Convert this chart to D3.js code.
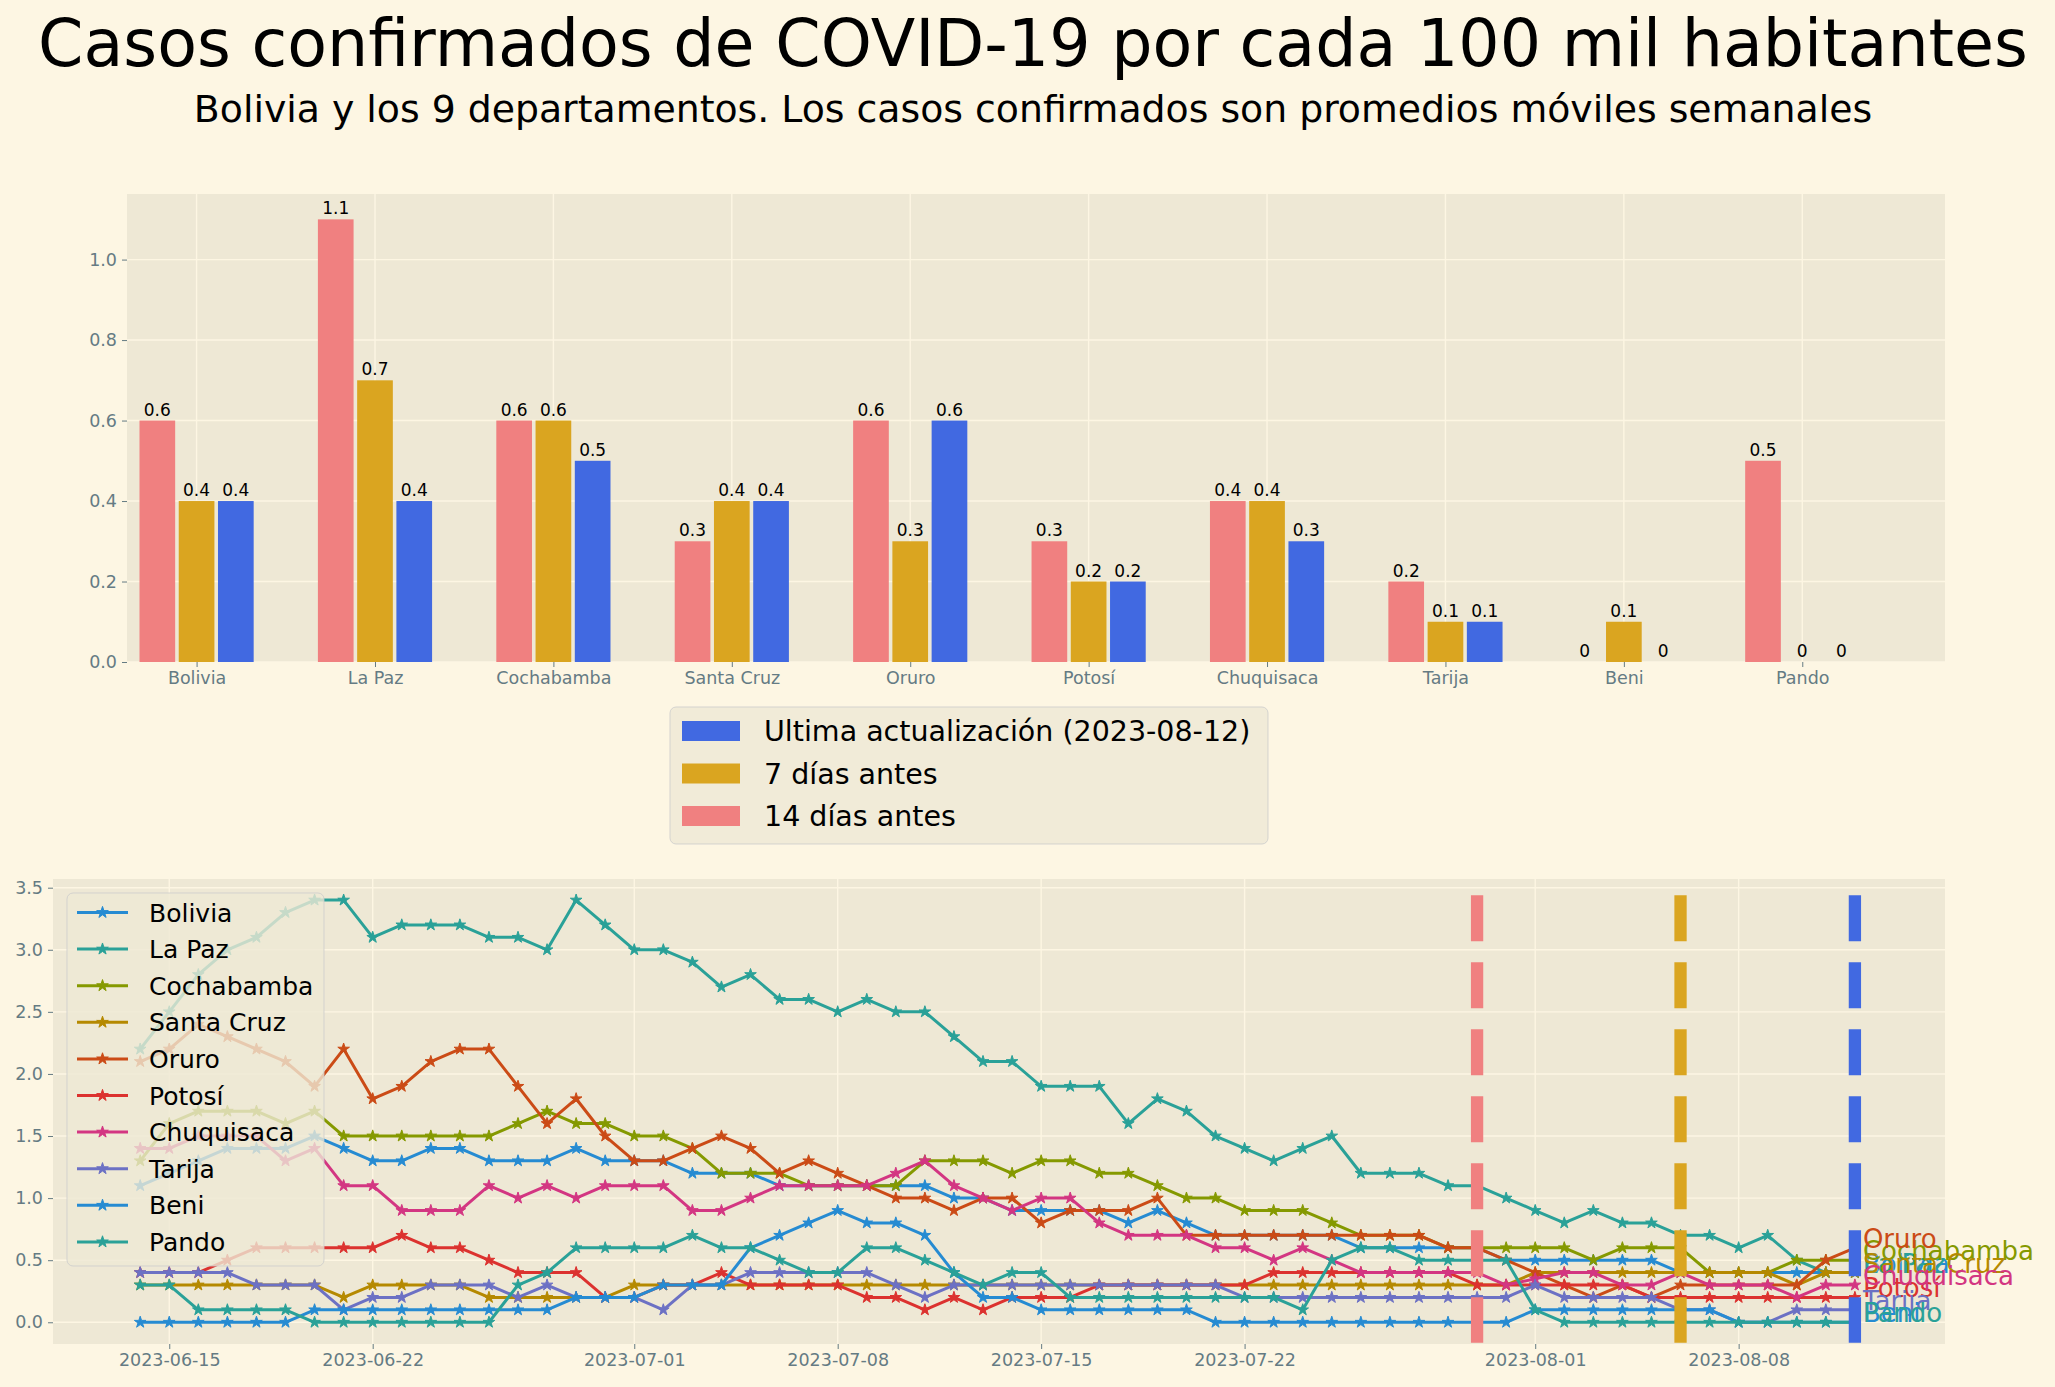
<!DOCTYPE html>
<html><head><meta charset="utf-8">
<script src="https://cdn.jsdelivr.net/npm/d3@7"></script>
<style>
body{margin:0;background:#FDF6E3;}
text{font-family:"DejaVu Sans",sans-serif;}
</style>
</head><body><svg id="c"></svg>
<script>
const W = 2055, H = 1387;
const titleText = "Casos confirmados de COVID-19 por cada 100 mil habitantes";
const subtitleText = "Bolivia y los 9 departamentos. Los casos confirmados son promedios móviles semanales";

// ---------- bar chart data ----------
const categories = ["Bolivia","La Paz","Cochabamba","Santa Cruz","Oruro","Potosí","Chuquisaca","Tarija","Beni","Pando"];
const lastValues     = [0.4, 0.4, 0.5, 0.4, 0.6, 0.2, 0.3, 0.1, 0,   0];
const weekBefore     = [0.4, 0.7, 0.6, 0.4, 0.3, 0.2, 0.4, 0.1, 0.1, 0];
const twoWeeksBefore = [0.6, 1.1, 0.6, 0.3, 0.6, 0.3, 0.4, 0.2, 0,   0.5];
const barLegendLabels = ["Ultima actualización (2023-08-12)", "7 días antes", "14 días antes"];
const barYTicks = [0, 0.2, 0.4, 0.6, 0.8, 1.0];

// ---------- line chart data ----------
const startDate = "2023-06-14", endDate = "2023-08-12";
const seriesNames = ["Bolivia","La Paz","Cochabamba","Santa Cruz","Oruro","Potosí","Chuquisaca","Tarija","Beni","Pando"];
const bolivia = [1.1,1.2,1.3,1.4,1.4,1.4,1.5,1.4,1.3,1.3,1.4,1.4, 1.3,1.3,1.3,1.4,1.3,1.3,1.3,1.2,1.2,1.2,1.1,1.1,1.1, 1.1,1.1,1.1,1.0,1.0,0.9,0.9,0.9,0.9,0.8,0.9,0.8,0.7,0.7, 0.7,0.7,0.7,0.6,0.6,0.6,0.6,0.6,0.5,0.5,0.5,0.5,0.5,0.5,0.4,0.4,0.4,0.4,0.4,0.4,0.4];
const laPaz = [2.2,2.5,2.8,3.0,3.1,3.3,3.4,3.4,3.1,3.2,3.2,3.2, 3.1,3.1,3.0,3.4,3.2,3.0,3.0,2.9,2.7,2.8,2.6,2.6,2.5, 2.6,2.5,2.5,2.3,2.1,2.1,1.9,1.9,1.9,1.6,1.8,1.7,1.5,1.4, 1.3,1.4,1.5,1.2,1.2,1.2,1.1,1.1,1.0,0.9,0.8,0.9,0.8,0.8,0.7,0.7,0.6,0.7,0.5,0.4,0.4];
const cochabamba = [1.3,1.6,1.7,1.7,1.7,1.6,1.7,1.5,1.5,1.5,1.5,1.5, 1.5,1.6,1.7,1.6,1.6,1.5,1.5,1.4,1.2,1.2,1.2,1.1,1.1, 1.1,1.1,1.3,1.3,1.3,1.2,1.3,1.3,1.2,1.2,1.1,1.0,1.0,0.9, 0.9,0.9,0.8,0.7,0.7,0.7,0.6,0.6,0.6,0.6,0.6,0.5,0.6,0.6,0.6,0.4,0.4,0.4,0.5,0.5,0.5];
const santaCruz = [0.3,0.3,0.3,0.3,0.3,0.3,0.3,0.2,0.3,0.3,0.3,0.3, 0.2,0.2,0.2,0.2,0.2,0.3,0.3,0.3,0.3,0.3,0.3,0.3,0.3, 0.3,0.3,0.3,0.3,0.3,0.3,0.3,0.3,0.3,0.3,0.3,0.3,0.3,0.3, 0.3,0.3,0.3,0.3,0.3,0.3,0.3,0.3,0.3,0.4,0.4,0.4,0.4,0.4,0.4,0.4,0.4,0.4,0.3,0.4,0.4];
const oruro = [2.1,2.2,2.4,2.3,2.2,2.1,1.9,2.2,1.8,1.9,2.1,2.2, 2.2,1.9,1.6,1.8,1.5,1.3,1.3,1.4,1.5,1.4,1.2,1.3,1.2, 1.1,1.0,1.0,0.9,1.0,1.0,0.8,0.9,0.9,0.9,1.0,0.7,0.7,0.7, 0.7,0.7,0.7,0.7,0.7,0.7,0.6,0.6,0.5,0.4,0.3,0.2,0.3,0.2,0.3,0.3,0.3,0.3,0.3,0.5,0.6];
const potosi = [0.4,0.4,0.4,0.5,0.6,0.6,0.6,0.6,0.6,0.7,0.6,0.6, 0.5,0.4,0.4,0.4,0.2,0.2,0.3,0.3,0.4,0.3,0.3,0.3,0.3, 0.2,0.2,0.1,0.2,0.1,0.2,0.2,0.2,0.3,0.3,0.3,0.3,0.3,0.3, 0.4,0.4,0.4,0.4,0.4,0.4,0.4,0.3,0.3,0.3,0.3,0.3,0.3,0.2,0.2,0.2,0.2,0.2,0.2,0.2,0.2];
const chuquisaca = [1.4,1.4,1.5,1.5,1.5,1.3,1.4,1.1,1.1,0.9,0.9,0.9, 1.1,1.0,1.1,1.0,1.1,1.1,1.1,0.9,0.9,1.0,1.1,1.1,1.1, 1.1,1.2,1.3,1.1,1.0,0.9,1.0,1.0,0.8,0.7,0.7,0.7,0.6,0.6, 0.5,0.6,0.5,0.4,0.4,0.4,0.4,0.4,0.3,0.35,0.4,0.4,0.3,0.3,0.4,0.3,0.3,0.3,0.2,0.3,0.3];
const tarija = [0.4,0.4,0.4,0.4,0.3,0.3,0.3,0.1,0.2,0.2,0.3,0.3, 0.3,0.2,0.3,0.2,0.2,0.2,0.1,0.3,0.3,0.4,0.4,0.4,0.4, 0.4,0.3,0.2,0.3,0.3,0.3,0.3,0.3,0.3,0.3,0.3,0.3,0.3,0.2, 0.2,0.2,0.2,0.2,0.2,0.2,0.2,0.2,0.2,0.3,0.2,0.2,0.2,0.2,0.1,0.1,0,0,0.1,0.1,0.1];
const beni = [0,0,0,0,0,0,0.1,0.1,0.1,0.1,0.1,0.1, 0.1,0.1,0.1,0.2,0.2,0.2,0.3,0.3,0.3,0.6,0.7,0.8,0.9, 0.8,0.8,0.7,0.4,0.2,0.2,0.1,0.1,0.1,0.1,0.1,0.1,0,0, 0,0,0,0,0,0,0,0,0,0.1,0.1,0.1,0.1,0.1,0.1,0.1,0,0,0,0,0];
const pando = [0.3,0.3,0.1,0.1,0.1,0.1,0,0,0,0,0,0, 0,0.3,0.4,0.6,0.6,0.6,0.6,0.7,0.6,0.6,0.5,0.4,0.4, 0.6,0.6,0.5,0.4,0.3,0.4,0.4,0.2,0.2,0.2,0.2,0.2,0.2,0.2, 0.2,0.1,0.5,0.6,0.6,0.5,0.5,0.5,0.5,0.1,0,0,0,0,0,0,0,0,0,0,0];
const seriesValues = [bolivia, laPaz, cochabamba, santaCruz, oruro, potosi, chuquisaca, tarija, beni, pando];
const seriesColors = ["#268BD2","#2AA198","#859900","#B58900","#CB4B16","#DC322F","#D33682","#6C71C4","#268BD2","#2AA198"];
const xTickLabels = ["2023-06-15","2023-06-22","2023-07-01","2023-07-08","2023-07-15","2023-07-22","2023-08-01","2023-08-08"];
const lineYTicks = [0, 0.5, 1.0, 1.5, 2.0, 2.5, 3.0, 3.5];
const markerDates = ["2023-07-30","2023-08-06","2023-08-12"];
const markerExtent = [3.44, -0.165];

// ---------- styles ----------
const BG = "#FDF6E3", AX = "#EEE8D5", GRID = "#FDF6E3", TICK = "#657b83";
const barColors = {last:"#4169E1", week:"#DAA520", two:"#F08080"};
const markerColors = [barColors.two, barColors.week, barColors.last];
const parse = d3.utcParse("%Y-%m-%d");

const svg = d3.select("#c").attr("width", W).attr("height", H);
svg.append("rect").attr("width", W).attr("height", H).attr("fill", BG);

svg.append("text").attr("x", 1033).attr("y", 66).attr("text-anchor", "middle")
  .attr("font-size", 65).attr("fill", "#000").text(titleText);
svg.append("text").attr("x", 1033).attr("y", 122).attr("text-anchor", "middle")
  .attr("font-size", 37.8).attr("fill", "#000").text(subtitleText);

function styleAxis(g) {
  g.select(".domain").remove();
  g.selectAll(".tick line").attr("stroke", TICK).attr("stroke-width", 1);
  g.selectAll(".tick text").attr("fill", TICK).attr("font-size", 17.5)
    .attr("font-family", "DejaVu Sans");
}

// ================= BAR CHART =================
const B = {l:127, r:1945, t:194, b:662};
const xb = d3.scaleLinear().domain([-0.39, 9.8]).range([B.l, B.r]);
const yb = d3.scaleLinear().domain([0, 1.163]).range([B.b, B.t]);
const gb = svg.append("g");
gb.append("rect").attr("x", B.l).attr("y", B.t).attr("width", B.r - B.l).attr("height", B.b - B.t).attr("fill", AX);
gb.append("g").selectAll("line").data(barYTicks).join("line")
  .attr("x1", B.l).attr("x2", B.r).attr("y1", d => yb(d)).attr("y2", d => yb(d))
  .attr("stroke", GRID).attr("stroke-width", 1.4);
gb.append("g").selectAll("line").data(d3.range(categories.length)).join("line")
  .attr("x1", d => xb(d)).attr("x2", d => xb(d)).attr("y1", B.t).attr("y2", B.b)
  .attr("stroke", GRID).attr("stroke-width", 1.4);
const barW = 0.2, offs = [-0.22, 0, 0.22];
const barSets = [
  {vals: twoWeeksBefore, color: barColors.two, off: offs[0]},
  {vals: weekBefore, color: barColors.week, off: offs[1]},
  {vals: lastValues, color: barColors.last, off: offs[2]}
];
barSets.forEach(s => {
  const g = gb.append("g");
  g.selectAll("rect").data(s.vals).join("rect")
    .attr("x", (d, i) => xb(i + s.off - barW / 2))
    .attr("width", xb(barW) - xb(0))
    .attr("y", d => yb(d))
    .attr("height", d => yb(0) - yb(d))
    .attr("fill", s.color);
  g.selectAll("text").data(s.vals).join("text")
    .attr("x", (d, i) => xb(i + s.off))
    .attr("y", d => yb(d) - 5)
    .attr("text-anchor", "middle").attr("font-size", 17).attr("fill", "#000")
    .text(d => d === 0 ? "0" : String(d));
});
gb.append("g").attr("transform", `translate(${B.l},0)`)
  .call(d3.axisLeft(yb).tickValues(barYTicks).tickFormat(d3.format(".1f")).tickSize(5).tickPadding(5))
  .call(styleAxis);
gb.append("g").attr("transform", `translate(0,${B.b})`)
  .call(d3.axisBottom(xb).tickValues(d3.range(categories.length)).tickFormat(i => categories[i]).tickSize(5).tickPadding(5))
  .call(styleAxis);

// bar legend
const bl = svg.append("g").attr("transform", "translate(670,707)");
bl.append("rect").attr("width", 598).attr("height", 137).attr("rx", 6)
  .attr("fill", AX).attr("fill-opacity", 0.8).attr("stroke", "#cccccc").attr("stroke-opacity", 0.8);
const blColors = [barColors.last, barColors.week, barColors.two];
barLegendLabels.forEach((t, i) => {
  const cy = 24 + i * 42.5;
  bl.append("rect").attr("x", 12).attr("y", cy - 10).attr("width", 58).attr("height", 20).attr("fill", blColors[i]);
  bl.append("text").attr("x", 94).attr("y", cy + 10.4).attr("font-size", 28.5).attr("fill", "#000").text(t);
});

// ================= LINE CHART =================
const L = {l:53, r:1945, t:879, b:1344};
const dates = d3.utcDay.range(parse(startDate), d3.utcDay.offset(parse(endDate), 1));
const DAY = 864e5;
const xl = d3.scaleUtc().domain([new Date(+dates[0] - 3.0 * DAY), new Date(+dates[dates.length - 1] + 3.1 * DAY)]).range([L.l, L.r]);
const yl = d3.scaleLinear().domain([-0.175, 3.57]).range([L.b, L.t]);
const gl = svg.append("g");
gl.append("rect").attr("x", L.l).attr("y", L.t).attr("width", L.r - L.l).attr("height", L.b - L.t).attr("fill", AX);
const xTicks = xTickLabels.map(parse);
gl.append("g").selectAll("line").data(lineYTicks).join("line")
  .attr("x1", L.l).attr("x2", L.r).attr("y1", d => yl(d)).attr("y2", d => yl(d))
  .attr("stroke", GRID).attr("stroke-width", 1.4);
gl.append("g").selectAll("line").data(xTicks).join("line")
  .attr("x1", d => xl(d)).attr("x2", d => xl(d)).attr("y1", L.t).attr("y2", L.b)
  .attr("stroke", GRID).attr("stroke-width", 1.4);
gl.append("g").attr("transform", `translate(${L.l},0)`)
  .call(d3.axisLeft(yl).tickValues(lineYTicks).tickFormat(d3.format(".1f")).tickSize(5).tickPadding(5))
  .call(styleAxis);
gl.append("g").attr("transform", `translate(0,${L.b})`)
  .call(d3.axisBottom(xl).tickValues(xTicks).tickFormat(d3.utcFormat("%Y-%m-%d")).tickSize(5).tickPadding(5))
  .call(styleAxis);

const line = d3.line().x((d, i) => xl(dates[i])).y(d => yl(d));
const star = d3.symbol().type(d3.symbolStar).size(42);
seriesValues.forEach((vals, k) => {
  const g = gl.append("g");
  g.append("path").attr("d", line(vals)).attr("fill", "none")
    .attr("stroke", seriesColors[k]).attr("stroke-width", 3).attr("stroke-linejoin", "round");
  g.selectAll("path.m").data(vals).join("path").attr("class", "m")
    .attr("transform", (d, i) => `translate(${xl(dates[i])},${yl(d)})`)
    .attr("d", star).attr("fill", seriesColors[k]).attr("stroke", seriesColors[k]).attr("stroke-width", 1);
});

// dashed markers (drawn from top down)
markerDates.forEach((d, i) => {
  gl.append("line").attr("x1", xl(parse(d))).attr("x2", xl(parse(d)))
    .attr("y1", yl(markerExtent[0])).attr("y2", yl(markerExtent[1]))
    .attr("stroke", markerColors[i]).attr("stroke-width", 12.3)
    .attr("stroke-dasharray", "46,21");
});

// end labels
seriesValues.forEach((vals, k) => {
  gl.append("text").attr("x", xl(dates[dates.length - 1]) + 8).attr("y", yl(vals[vals.length - 1]))
    .attr("font-size", 26).attr("fill", seriesColors[k]).text(seriesNames[k]);
});

// line legend
const ll = svg.append("g").attr("transform", "translate(67,893)");
ll.append("rect").attr("width", 257).attr("height", 373).attr("rx", 6)
  .attr("fill", AX).attr("fill-opacity", 0.8).attr("stroke", "#cccccc").attr("stroke-opacity", 0.8);
seriesNames.forEach((n, i) => {
  const cy = 19.5 + i * 36.6;
  ll.append("line").attr("x1", 10).attr("x2", 61).attr("y1", cy).attr("y2", cy)
    .attr("stroke", seriesColors[i]).attr("stroke-width", 3);
  ll.append("path").attr("transform", `translate(35.5,${cy})`).attr("d", star)
    .attr("fill", seriesColors[i]).attr("stroke", seriesColors[i]).attr("stroke-width", 1);
  ll.append("text").attr("x", 82).attr("y", cy + 9).attr("font-size", 25).attr("fill", "#000").text(n);
});
</script>
</body></html>
